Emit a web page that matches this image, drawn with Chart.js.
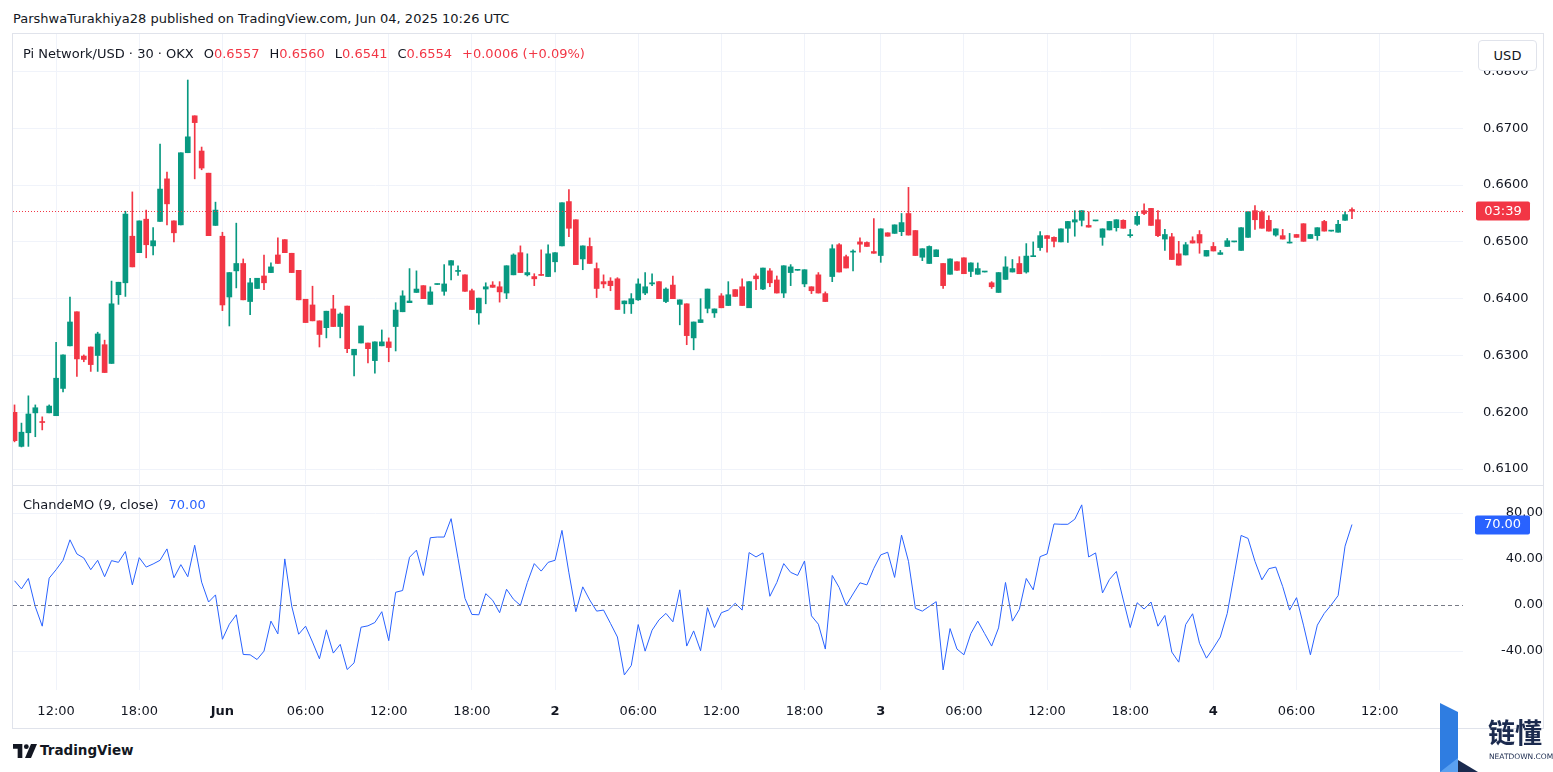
<!DOCTYPE html>
<html>
<head>
<meta charset="utf-8">
<script src="https://cdn.jsdelivr.net/npm/chart.js@4.4.1/dist/chart.umd.min.js"></script>
<style>
  body { margin: 0; background: #fff; }
  #wrap { position: relative; width: 1553px; height: 772px; overflow: hidden; background: #fff;
          font-family: "DejaVu Sans", sans-serif; color: #131722; }
  .t { position: absolute; white-space: nowrap; font-size: 13px; line-height: 16px; }
  .r { color: #F23645; }
  .g { margin-left: 10px; }
  canvas { position: absolute; left: 0; }
</style>
</head>
<body>
<div id="wrap">
  <div class="t" style="left:13px;top:11px;">ParshwaTurakhiya28 published on TradingView.com, Jun 04, 2025 10:26 UTC</div>
  <div style="position:absolute;left:12px;top:33px;width:1530px;height:694px;border:1px solid #e0e3eb;"></div>
  <div style="position:absolute;left:13px;top:485px;width:1530px;height:1px;background:#e0e3eb;"></div>

  <canvas id="priceChart" width="1553" height="450" style="top:34px"></canvas>
  <canvas id="cmoChart" width="1553" height="242" style="top:486px"></canvas>

  <div class="t" style="left:23px;top:46px;">Pi Network/USD · 30 · OKX<span class="g">O</span><span class="r">0.6557</span><span class="g">H</span><span class="r">0.6560</span><span class="g">L</span><span class="r">0.6541</span><span class="g">C</span><span class="r">0.6554</span><span class="g r">+0.0006 (+0.09%)</span></div>
  <div class="t" style="left:23px;top:497px;">ChandeMO (9, close)<span class="g" style="color:#2962FF">70.00</span></div>

  <div style="position:absolute;left:1478px;top:40px;width:57px;height:29px;border:1px solid #e0e3eb;border-radius:4px;background:#fff;
              font-size:13px;line-height:29px;text-align:center;">USD</div>

  <svg style="position:absolute;left:13px;top:744px" width="24" height="14" viewBox="0 0 36 21">
    <path d="M14 21H7V7H0V0h14z" fill="#131722"/>
    <circle cx="20" cy="4" r="3.6" fill="#131722"/>
    <path d="M27 0h9l-9 21h-9z" fill="#131722"/>
  </svg>
  <div style="position:absolute;left:40px;top:741px;font-size:13.5px;line-height:18px;font-weight:700;">TradingView</div>

  <svg style="position:absolute;left:1438px;top:700px" width="115" height="72">
    <polygon points="2,3 20,12 20,72 2,72" fill="#2f7de1"/>
    <polygon points="20,60 40,72 20,72" fill="#1b2a4e"/>
    <polygon points="2,72 20,58 20,72" fill="#5aa0f0"/>
    <text x="50" y="43" font-size="27" font-weight="700" fill="#1b2a4e" font-family="Noto Sans CJK SC">链懂</text>
    <text x="51" y="59" font-size="7.5" fill="#1b2a4e" font-family="DejaVu Sans">NEATDOWN.COM</text>
  </svg>
</div>

<script>
// 30-min candles, Pi Network/USD, May 31 09:00 -> Jun 04 10:00 UTC
const opens = [
  0.6200,0.6140,0.6164,0.6199,0.6183,0.6199,0.6194,0.6242,0.6317,0.6377,
  0.6299,0.6315,0.6300,0.6319,0.6286,0.6407,0.6428,0.6510,0.6481,0.6540,
  0.6493,0.6536,0.6611,0.6537,0.6530,0.6657,0.6722,0.6660,0.6621,0.6529,
  0.6510,0.6403,0.6449,0.6462,0.6395,0.6418,0.6440,0.6446,0.6477,0.6504,
  0.6480,0.6450,0.6399,0.6389,0.6361,0.6349,0.6382,0.6351,0.6387,0.6301,
  0.6322,0.6322,0.6291,0.6317,0.6324,0.6351,0.6377,0.6393,0.6411,0.6423,
  0.6390,0.6425,0.6413,0.6459,0.6448,0.6442,0.6414,0.6375,0.6417,0.6424,
  0.6421,0.6410,0.6442,0.6481,0.6442,0.6439,0.6442,0.6439,0.6465,0.6493,
  0.6571,0.6539,0.6470,0.6492,0.6453,0.6430,0.6431,0.6435,0.6391,0.6391,
  0.6398,0.6410,0.6426,0.6430,0.6395,0.6424,0.6390,0.6391,0.6331,0.6358,
  0.6383,0.6375,0.6405,0.6388,0.6416,0.6421,0.6384,0.6440,0.6417,0.6449,
  0.6433,0.6410,0.6446,0.6450,0.6426,0.6421,0.6442,0.6409,0.6439,0.6495,
  0.6474,0.6482,0.6500,0.6499,0.6483,0.6476,0.6516,0.6515,0.6518,0.6550,
  0.6520,0.6473,0.6462,0.6474,0.6462,0.6443,0.6465,0.6472,0.6448,0.6443,
  0.6447,0.6428,0.6411,0.6434,0.6447,0.6462,0.6447,0.6474,0.6490,0.6511,
  0.6508,0.6500,0.6524,0.6535,0.6538,0.6529,0.6537,0.6508,0.6521,0.6525,
  0.6538,0.6511,0.6531,0.6555,0.6559,0.6539,0.6505,0.6509,0.6479,0.6477,
  0.6502,0.6513,0.6475,0.6492,0.6478,0.6492,0.6500,0.6485,0.6508,0.6555,
  0.6553,0.6538,0.6512,0.6511,0.6498,0.6513,0.6532,0.6506,0.6511,0.6536,
  0.6519,0.6517,0.6538,0.6557
];
const highs = [
  0.6213,0.6181,0.6229,0.6213,0.6192,0.6213,0.6323,0.6301,0.6403,0.6377,
  0.6301,0.6315,0.6341,0.6327,0.6431,0.6429,0.6554,0.6588,0.6537,0.6556,
  0.6525,0.6672,0.6623,0.6537,0.6657,0.6785,0.6722,0.6667,0.6621,0.6570,
  0.6517,0.6446,0.6533,0.6470,0.6436,0.6436,0.6477,0.6463,0.6507,0.6504,
  0.6480,0.6450,0.6399,0.6422,0.6361,0.6378,0.6406,0.6375,0.6387,0.6311,
  0.6352,0.6322,0.6324,0.6345,0.6331,0.6393,0.6414,0.6453,0.6449,0.6423,
  0.6421,0.6426,0.6460,0.6467,0.6458,0.6442,0.6417,0.6401,0.6428,0.6430,
  0.6430,0.6458,0.6479,0.6493,0.6479,0.6444,0.6486,0.6495,0.6481,0.6569,
  0.6592,0.6539,0.6493,0.6507,0.6463,0.6442,0.6437,0.6437,0.6396,0.6409,
  0.6435,0.6446,0.6444,0.6430,0.6419,0.6440,0.6398,0.6391,0.6359,0.6400,
  0.6417,0.6382,0.6409,0.6430,0.6416,0.6435,0.6430,0.6444,0.6454,0.6453,
  0.6440,0.6458,0.6460,0.6451,0.6451,0.6421,0.6446,0.6412,0.6495,0.6497,
  0.6477,0.6486,0.6507,0.6500,0.6541,0.6523,0.6516,0.6530,0.6550,0.6596,
  0.6520,0.6488,0.6493,0.6486,0.6462,0.6470,0.6465,0.6472,0.6463,0.6463,
  0.6448,0.6430,0.6446,0.6474,0.6469,0.6474,0.6497,0.6500,0.6518,0.6511,
  0.6509,0.6523,0.6536,0.6555,0.6555,0.6553,0.6538,0.6523,0.6536,0.6539,
  0.6539,0.6522,0.6553,0.6567,0.6559,0.6555,0.6522,0.6515,0.6501,0.6499,
  0.6509,0.6520,0.6485,0.6499,0.6485,0.6506,0.6501,0.6525,0.6553,0.6564,
  0.6555,0.6546,0.6523,0.6522,0.6515,0.6513,0.6532,0.6513,0.6525,0.6538,
  0.6520,0.6538,0.6553,0.6560
];
const lows = [
  0.6148,0.6139,0.6140,0.6157,0.6169,0.6199,0.6194,0.6236,0.6317,0.6263,
  0.6289,0.6272,0.6272,0.6270,0.6286,0.6390,0.6404,0.6456,0.6481,0.6472,
  0.6477,0.6536,0.6530,0.6500,0.6530,0.6657,0.6611,0.6627,0.6511,0.6529,
  0.6379,0.6352,0.6419,0.6398,0.6372,0.6418,0.6416,0.6446,0.6462,0.6481,
  0.6446,0.6398,0.6358,0.6361,0.6315,0.6331,0.6351,0.6331,0.6305,0.6264,
  0.6322,0.6287,0.6269,0.6317,0.6289,0.6308,0.6377,0.6393,0.6411,0.6400,
  0.6390,0.6425,0.6406,0.6433,0.6441,0.6413,0.6381,0.6355,0.6391,0.6420,
  0.6394,0.6400,0.6442,0.6446,0.6440,0.6423,0.6441,0.6439,0.6447,0.6493,
  0.6509,0.6460,0.6451,0.6462,0.6402,0.6419,0.6414,0.6381,0.6374,0.6374,
  0.6397,0.6407,0.6423,0.6400,0.6393,0.6400,0.6354,0.6319,0.6310,0.6358,
  0.6375,0.6367,0.6384,0.6388,0.6404,0.6388,0.6384,0.6416,0.6416,0.6421,
  0.6410,0.6402,0.6423,0.6450,0.6421,0.6409,0.6410,0.6395,0.6430,0.6447,
  0.6454,0.6449,0.6482,0.6492,0.6480,0.6464,0.6510,0.6515,0.6511,0.6512,
  0.6476,0.6467,0.6462,0.6474,0.6418,0.6443,0.6450,0.6444,0.6439,0.6443,
  0.6447,0.6418,0.6411,0.6434,0.6447,0.6444,0.6445,0.6474,0.6485,0.6482,
  0.6491,0.6500,0.6499,0.6510,0.6528,0.6526,0.6537,0.6494,0.6521,0.6519,
  0.6524,0.6508,0.6529,0.6548,0.6529,0.6509,0.6485,0.6469,0.6459,0.6477,
  0.6498,0.6480,0.6475,0.6484,0.6478,0.6492,0.6500,0.6485,0.6508,0.6522,
  0.6524,0.6519,0.6510,0.6505,0.6498,0.6508,0.6501,0.6506,0.6503,0.6519,
  0.6519,0.6517,0.6538,0.6541
];
const closes = [
  0.6150,0.6165,0.6197,0.6208,0.6182,0.6211,0.6260,0.6301,0.6359,0.6294,
  0.6293,0.6284,0.6338,0.6270,0.6391,0.6429,0.6549,0.6456,0.6537,0.6495,
  0.6502,0.6593,0.6567,0.6516,0.6657,0.6685,0.6710,0.6630,0.6511,0.6556,
  0.6389,0.6446,0.6462,0.6398,0.6428,0.6436,0.6428,0.6456,0.6462,0.6481,
  0.6446,0.6398,0.6358,0.6361,0.6337,0.6378,0.6351,0.6373,0.6312,0.6311,
  0.6352,0.6312,0.6324,0.6324,0.6314,0.6380,0.6405,0.6396,0.6417,0.6400,
  0.6412,0.6426,0.6426,0.6467,0.6449,0.6413,0.6381,0.6401,0.6421,0.6420,
  0.6412,0.6458,0.6477,0.6446,0.6446,0.6435,0.6441,0.6479,0.6481,0.6569,
  0.6524,0.6460,0.6493,0.6462,0.6418,0.6426,0.6423,0.6381,0.6396,0.6400,
  0.6426,0.6421,0.6428,0.6400,0.6417,0.6400,0.6398,0.6335,0.6359,0.6363,
  0.6417,0.6382,0.6384,0.6407,0.6404,0.6388,0.6430,0.6435,0.6454,0.6428,
  0.6410,0.6458,0.6456,0.6451,0.6451,0.6414,0.6410,0.6395,0.6488,0.6447,
  0.6454,0.6483,0.6496,0.6492,0.6480,0.6523,0.6510,0.6530,0.6534,0.6512,
  0.6476,0.6488,0.6492,0.6486,0.6423,0.6470,0.6450,0.6444,0.6463,0.6453,
  0.6448,0.6421,0.6446,0.6456,0.6453,0.6444,0.6475,0.6475,0.6511,0.6506,
  0.6501,0.6523,0.6536,0.6539,0.6555,0.6526,0.6538,0.6523,0.6536,0.6539,
  0.6524,0.6512,0.6545,0.6550,0.6529,0.6511,0.6513,0.6469,0.6459,0.6495,
  0.6498,0.6498,0.6485,0.6484,0.6481,0.6502,0.6501,0.6525,0.6553,0.6539,
  0.6524,0.6519,0.6523,0.6505,0.6499,0.6508,0.6501,0.6513,0.6525,0.6519,
  0.6520,0.6531,0.6548,0.6554
];
// Chande Momentum Oscillator (9, close)
const cmoValues = [
  21.1,14.0,23.1,-1.5,-18.4,23.4,30.7,38.9,56.7,44.4,
  40.9,30.7,38.9,24.6,38.6,37.1,46.5,17.5,41.2,33.0,
  35.7,38.9,48.8,23.7,35.1,24.6,52.0,19.9,2.6,8.8,
  -29.8,-16.7,-8.5,-43.0,-43.3,-47.4,-40.1,-14.0,-25.1,40.1,
  -0.9,-25.4,-18.4,-32.2,-46.8,-21.6,-41.8,-34.2,-56.1,-50.3,
  -19.3,-18.1,-15.2,-5.8,-31.0,11.1,12.6,41.5,47.7,25.7,
  58.5,59.1,59.1,75.1,40.5,5.8,-8.2,-8.5,9.9,4.1,
  -6.7,13.7,5.0,-0.3,19.6,36.0,29.5,37.1,38.9,64.9,
  28.0,-5.8,15.8,4.4,-5.3,-4.4,-16.0,-27.8,-60.8,-52.6,
  -17.0,-40.1,-21.9,-12.9,-7.3,-14.6,13.2,-35.7,-22.5,-39.8,
  -2.3,-19.6,-6.7,-4.4,1.5,-4.4,45.6,41.8,45.3,7.6,
  19.6,36.0,28.4,25.7,38.3,-9.4,-16.7,-38.3,25.7,15.2,
  -0.3,9.6,19.3,17.5,31.9,43.6,45.9,24.0,60.8,38.0,
  -2.9,-5.3,-1.2,2.9,-56.4,-20.5,-38.3,-43.3,-24.9,-14.0,
  -24.9,-35.7,-19.9,19.6,-14.0,-3.8,23.1,13.2,42.1,44.4,
  70.5,70.2,70.2,74.6,87.1,41.8,45.3,10.5,22.2,29.2,
  4.4,-19.6,2.0,-3.5,2.6,-18.4,-9.1,-40.9,-49.7,-17.0,
  -7.6,-33.3,-46.2,-37.4,-27.8,-7.3,26.3,60.5,57.9,38.0,
  21.9,31.6,33.0,16.1,-4.4,6.4,-17.5,-43.3,-17.5,-7.3,
  0.0,8.2,51.2,70.0
];
// time axis: bar number -> label
const tickIdx  = [7, 19, 31, 43, 55, 67, 79, 91, 103, 115, 126, 138, 150, 162, 174, 186, 198];
const tickText = ['12:00','18:00','Jun','06:00','12:00','18:00','2','06:00','12:00','18:00','3','06:00','12:00','18:00','4','06:00','12:00'];
const priceTicks = [0.61, 0.62, 0.63, 0.64, 0.65, 0.66, 0.67, 0.68];
const cmoTicks = [-40, 0, 40, 80];

const GREEN = '#089981', RED = '#F23645', BLUE = '#2962FF';
const GRID = '#f0f3fa';
const FONT = '"DejaVu Sans", sans-serif';
const X_MIN = 0.78, X_MAX = 210.02;

const colors = closes.map((c, k) => c >= opens[k] ? GREEN : RED);
const wicks = closes.map((c, k) => ({ x: k + 1, y: [lows[k], highs[k]] }));
const bodies = closes.map((c, k) => ({ x: k + 1, y: [Math.min(opens[k], c), Math.max(opens[k], c)] }));

// scales must not reserve label padding, the panes are fixed in px
function noPad(s) {
    s.paddingTop = 0; s.paddingBottom = 0; s.paddingLeft = 0; s.paddingRight = 0;
}

function xScale(showLabels) {
    return {
        type: 'linear', min: X_MIN, max: X_MAX, offset: false,
        afterBuildTicks: (s) => { s.ticks = tickIdx.map((v) => ({ value: v })); },
        afterFit: (s) => { s.height = showLabels ? 38 : 0; noPad(s); },
        grid: { color: GRID, offset: false, drawTicks: false },
        border: { display: false },
        ticks: {
            display: showLabels, autoSkip: false, maxRotation: 0, padding: 14, color: '#131722',
            callback: (v, i) => tickText[i],
            font: (c) => ({ family: FONT, size: 13, weight: /^(Jun|\d)$/.test(tickText[c.index]) ? 'bold' : 'normal' })
        }
    };
}

function roundRect(ctx, x, y, w, h, r) {
    ctx.beginPath();
    ctx.moveTo(x + r, y);
    ctx.arcTo(x + w, y, x + w, y + h, r);
    ctx.arcTo(x + w, y + h, x, y + h, r);
    ctx.arcTo(x, y + h, x, y, r);
    ctx.arcTo(x, y, x + w, y, r);
    ctx.closePath();
}

// dotted last price line + countdown label
const lastPrice = {
    id: 'lastPrice',
    afterDatasetsDraw(chart) {
        const { ctx, chartArea, scales } = chart;
        const py = Math.round(scales.y.getPixelForValue(closes[closes.length - 1])) + 0.5;
        ctx.save();
        ctx.strokeStyle = RED;
        ctx.lineWidth = 1;
        ctx.setLineDash([1, 2]);
        ctx.beginPath();
        ctx.moveTo(chartArea.left, py);
        ctx.lineTo(chartArea.right, py);
        ctx.stroke();
        ctx.setLineDash([]);
        ctx.fillStyle = RED;
        roundRect(ctx, chartArea.right + 13, py - 10, 54, 19, 2);
        ctx.fill();
        ctx.fillStyle = '#fff';
        ctx.font = '13px ' + FONT;
        ctx.textAlign = 'center';
        ctx.textBaseline = 'middle';
        ctx.fillText('03:39', chartArea.right + 40, py);
        ctx.restore();
    }
};

// dashed zero line + current value label
const cmoExtras = {
    id: 'cmoExtras',
    afterDatasetsDraw(chart) {
        const { ctx, chartArea, scales } = chart;
        const zy = Math.round(scales.y.getPixelForValue(0)) + 0.5;
        ctx.save();
        ctx.strokeStyle = '#787b86';
        ctx.lineWidth = 1;
        ctx.setLineDash([4, 3]);
        ctx.beginPath();
        ctx.moveTo(chartArea.left, zy);
        ctx.lineTo(chartArea.right, zy);
        ctx.stroke();
        ctx.setLineDash([]);
        const vy = Math.round(scales.y.getPixelForValue(cmoValues[cmoValues.length - 1]));
        ctx.fillStyle = BLUE;
        roundRect(ctx, chartArea.right + 12, vy - 9.5, 55, 19, 2);
        ctx.fill();
        ctx.fillStyle = '#fff';
        ctx.font = '13px ' + FONT;
        ctx.textAlign = 'center';
        ctx.textBaseline = 'middle';
        ctx.fillText(cmoValues[cmoValues.length - 1].toFixed(2), chartArea.right + 39.5, vy);
        ctx.restore();
    }
};

new Chart(document.getElementById('priceChart'), {
    type: 'bar',
    data: {
        datasets: [
            { label: 'wick', data: wicks, backgroundColor: colors, barThickness: 1, grouped: false, borderWidth: 0 },
            { label: 'body', data: bodies, backgroundColor: colors, barThickness: 5, minBarLength: 1, grouped: false, borderWidth: 0 }
        ]
    },
    options: {
        responsive: false, animation: false, events: [],
        layout: { autoPadding: false, padding: { left: 13, right: 10, top: 0, bottom: 0 } },
        plugins: { legend: { display: false }, tooltip: { enabled: false } },
        scales: {
            x: xScale(false),
            y: {
                position: 'right', min: 0.607377, max: 0.686602,
                afterBuildTicks: (s) => { s.ticks = priceTicks.map((v) => ({ value: v })); },
                afterFit: (s) => { s.width = 80; noPad(s); },
                grid: { color: GRID, drawTicks: false },
                border: { display: false },
                ticks: { padding: 20, color: '#131722', font: { family: FONT, size: 13 }, callback: (v) => v.toFixed(4) }
            }
        }
    },
    plugins: [lastPrice]
});

new Chart(document.getElementById('cmoChart'), {
    type: 'line',
    data: {
        datasets: [{
            label: 'ChandeMO', data: cmoValues.map((v, k) => ({ x: k + 1, y: v })),
            borderColor: BLUE, borderWidth: 1, pointRadius: 0, tension: 0, fill: false
        }]
    },
    options: {
        responsive: false, animation: false, events: [],
        layout: { autoPadding: false, padding: { left: 13, right: 10, top: 0, bottom: 0 } },
        plugins: { legend: { display: false }, tooltip: { enabled: false } },
        scales: {
            x: xScale(true),
            y: {
                position: 'right', min: -73.9, max: 103.5,
                afterBuildTicks: (s) => { s.ticks = cmoTicks.map((v) => ({ value: v })); },
                afterFit: (s) => { s.width = 80; noPad(s); },
                grid: { color: (c) => c.tick && c.tick.value === 0 ? 'rgba(0,0,0,0)' : GRID, drawTicks: false },
                border: { display: false },
                ticks: { padding: 16, crossAlign: 'far', color: '#131722', font: { family: FONT, size: 13 }, callback: (v) => v.toFixed(2) }
            }
        }
    },
    plugins: [cmoExtras]
});
</script>
</body>
</html>
